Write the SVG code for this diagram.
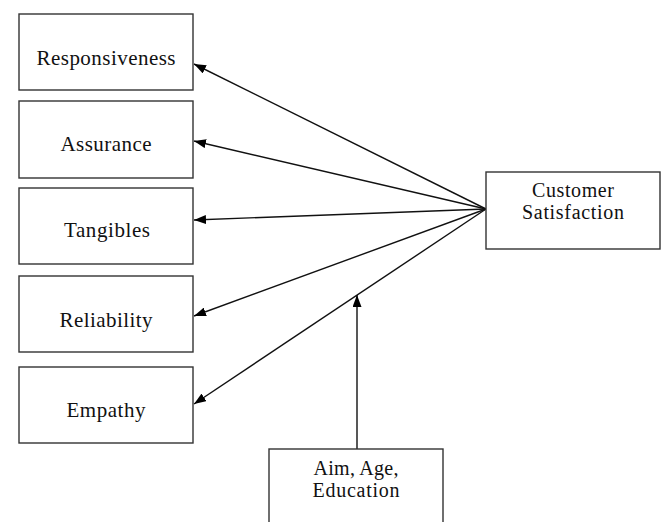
<svg xmlns="http://www.w3.org/2000/svg" width="662" height="522" viewBox="0 0 662 522">
<style>
.box{fill:#fff;stroke:#333;stroke-width:1.4}
.lbl{font-family:"Liberation Serif","Times New Roman",serif;font-size:21px;fill:#111;text-anchor:middle}
.lbl2{font-size:20px}
.con{stroke:#111;stroke-width:1.4;fill:none;marker-end:url(#ah)}
</style>
<defs>
<marker id="ah" markerUnits="userSpaceOnUse" markerWidth="13" markerHeight="9" refX="12" refY="4.5" orient="auto">
<path d="M0,0 L12,4.5 L0,9 z" fill="#000"/>
</marker>
</defs>
<rect width="662" height="522" fill="#fff"/>
<g id="connectors">
<line class="con" x1="486" y1="209" x2="194" y2="64"/>
<line class="con" x1="486" y1="209" x2="194" y2="141"/>
<line class="con" x1="486" y1="209" x2="194" y2="220"/>
<line class="con" x1="486" y1="209" x2="194" y2="316"/>
<line class="con" x1="486" y1="209" x2="194" y2="404"/>
<line class="con" x1="357" y1="449" x2="357" y2="295"/>
</g>
<g id="responsiveness">
<rect class="box" x="19" y="14" width="174" height="76"/>
<text class="lbl" x="106" y="65" textLength="139">Responsiveness</text>
</g>
<g id="assurance">
<rect class="box" x="19" y="101" width="174" height="77"/>
<text class="lbl" x="106" y="151" textLength="91">Assurance</text>
</g>
<g id="tangibles">
<rect class="box" x="19" y="188" width="174" height="76"/>
<text class="lbl" x="107" y="237" textLength="86">Tangibles</text>
</g>
<g id="reliability">
<rect class="box" x="19" y="276" width="174" height="76"/>
<text class="lbl" x="106" y="327" textLength="93">Reliability</text>
</g>
<g id="empathy">
<rect class="box" x="19" y="367" width="174" height="76"/>
<text class="lbl" x="106" y="417" textLength="79">Empathy</text>
</g>
<g id="customer-satisfaction">
<rect class="box" x="486" y="172" width="174" height="77"/>
<text class="lbl lbl2" x="573" y="197" textLength="82">Customer</text>
<text class="lbl lbl2" x="573" y="219" textLength="102">Satisfaction</text>
</g>
<g id="aim-age-education">
<rect class="box" x="269" y="449" width="174" height="80"/>
<text class="lbl lbl2" x="356" y="475" textLength="85">Aim, Age,</text>
<text class="lbl lbl2" x="356" y="497" textLength="87">Education</text>
</g>
</svg>
